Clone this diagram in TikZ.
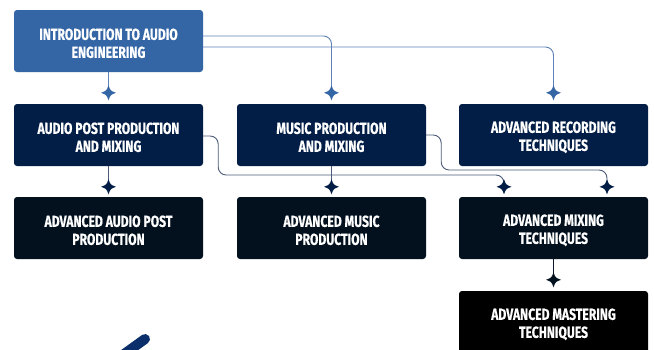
\documentclass[tikz,border=0pt]{standalone}
\usepackage{fontspec}
\setmainfont{Fira Sans}[FakeStretch=0.76, FakeBold=0.6]
\definecolor{cIntro}{HTML}{3465A4}
\definecolor{cRowB}{HTML}{021E46}
\definecolor{cRowC}{HTML}{03111F}
\definecolor{cRowD}{HTML}{000000}
\definecolor{cLineA}{HTML}{5E82B8}
\definecolor{cLineB}{HTML}{4B5B78}
\definecolor{cLineC}{HTML}{0A1A2B}
\definecolor{cDeco}{HTML}{0B2F6B}
\tikzset{
  box/.style={rectangle, rounded corners=3pt, minimum width=189pt, minimum height=62pt,
    inner sep=0pt, text=white, align=center, font=\bfseries\fontsize{16}{18}\selectfont},
  conn/.style={line width=0.9pt, rounded corners=8pt},
  sparkle/.pic={\fill[sharp corners] (0,-7.5) .. controls (2,-2) .. (7.5,0)
     .. controls (2,2) .. (0,7.5) .. controls (-2,2) .. (-7.5,0)
     .. controls (-2,-2) .. cycle;},
}
\newcommand{\up}{\rule{0pt}{16pt}}
\begin{document}
\begin{tikzpicture}[x=1pt,y=-1pt]
\useasboundingbox (0,0) rectangle (654,349);
\clip (0,0) rectangle (654,349);
\fill[white] (0,0) rectangle (654,349);
% nodes
\node[box, fill=cIntro] (intro) at (108.5,41) {\up INTRODUCTION TO AUDIO\\ENGINEERING};
\node[box, fill=cRowB] (aud) at (108.5,135) {\up AUDIO POST PRODUCTION\\AND MIXING};
\node[box, fill=cRowB] (mus) at (331.5,135) {\up MUSIC PRODUCTION\\AND MIXING};
\node[box, fill=cRowB] (rec) at (553.5,135) {\up ADVANCED RECORDING\\TECHNIQUES};
\node[box, fill=cRowC] (aap) at (108.5,228) {\up ADVANCED AUDIO POST\\PRODUCTION};
\node[box, fill=cRowC] (amp) at (331.5,228) {\up ADVANCED MUSIC\\PRODUCTION};
\node[box, fill=cRowC] (amix) at (553.5,228) {\up ADVANCED MIXING\\TECHNIQUES};
\node[box, fill=cRowD] (amast) at (553.5,322) {\up ADVANCED MASTERING\\TECHNIQUES};
% star positions
\coordinate (sAud) at ([yshift=11pt]aud.north);
\coordinate (sMus) at ([yshift=11pt]mus.north);
\coordinate (sRec) at ([yshift=11pt]rec.north);
\coordinate (sAap) at ([yshift=10pt]aap.north);
\coordinate (sAmp) at ([yshift=10pt]amp.north);
\coordinate (sMixL) at ([xshift=-49.5pt,yshift=10pt]amix.north);
\coordinate (sMixR) at ([xshift=53.5pt,yshift=10pt]amix.north);
\coordinate (sAmast) at ([yshift=11pt]amast.north);
% connectors from intro
\draw[conn, cLineA] (intro.south) -- (sAud);
\draw[conn, cLineA] ([yshift=5pt]intro.east) -| (sMus);
\draw[conn, cLineA] ([yshift=-6pt]intro.east) -| (sRec);
% connectors from row 2
\draw[conn, cLineB] (aud.south) -- (sAap);
\draw[conn, cLineB] (mus.south) -- (sAmp);
\draw[conn, cLineB] ([yshift=-1pt]aud.east) -- ++(15,0) -- ++(0,39) -| (sMixL);
\draw[conn, cLineB] (mus.east) -- ++(15,0) -- ++(0,35) -| (sMixR);
% connector from row 3
\draw[conn, cLineC] (amix.south) -- (sAmast);
% arrow-head sparkles
\pic[fill=cIntro] at (sAud) {sparkle};
\pic[fill=cIntro] at (sMus) {sparkle};
\pic[fill=cIntro] at (sRec) {sparkle};
\pic[fill=cRowB] at (sAap) {sparkle};
\pic[fill=cRowB] at (sAmp) {sparkle};
\pic[fill=cRowB] at (sMixL) {sparkle};
\pic[fill=cRowB] at (sMixR) {sparkle};
\pic[fill=cRowC] at (sAmast) {sparkle};
% decoration
\draw[cDeco, line width=10pt, line cap=round] (145,339) -- (120,357);
\end{tikzpicture}
\end{document}
